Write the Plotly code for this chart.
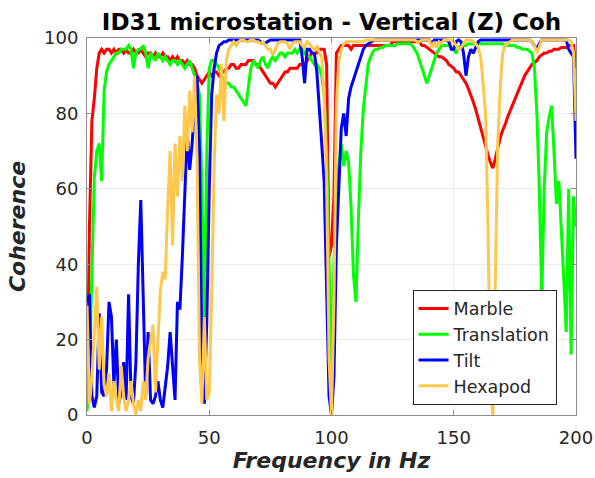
import plotly.graph_objects as go

freq = list(range(201))

marble = [
    2, 50, 78, 84, 92, 96, 97, 96, 97, 97,
    96, 97, 96, 97, 97, 96, 97, 96, 96, 97,
    96, 96, 97, 96, 95, 96, 96, 95, 96, 95,
    95, 96, 95, 95, 94, 95, 94, 95, 94, 94,
    93, 94, 93, 93, 92, 90, 89, 88, 89, 90,
    91, 90, 91, 91, 90, 91, 91, 92, 92, 93,
    93, 92, 92, 93, 93, 93, 94, 94, 94, 93,
    93, 92, 91, 90, 89, 88, 88, 87, 88, 89,
    90, 91, 91, 92, 92, 92, 92, 93, 93, 93,
    94, 95, 96, 96, 96, 97, 97, 97, 93, 42,
    45, 58, 96, 97, 98, 98, 98, 98, 97, 98,
    98, 98, 98, 98, 98, 98, 98, 98, 98, 98,
    98, 98, 98, 98, 98, 99, 99, 99, 99, 99,
    99, 99, 99, 99, 99, 99, 99, 98, 98, 97.5,
    97, 96.5, 96, 95.5, 95, 95, 94.5, 94, 93, 92.5,
    92, 91, 91, 90, 89, 88, 86.5, 85, 83, 81,
    78.5, 76, 73.5, 71, 69, 67, 65.5, 68, 71, 73.5,
    75.5, 77, 79, 80.5, 82, 84, 85.5, 87, 88.5, 90,
    91, 92, 93, 93.5, 94, 95, 95.5, 96, 96, 96.5,
    96.5, 97, 97, 97, 97.5, 97.5, 97.5, 98, 98, 98,
    92,
]

translation = [
    1, 12, 38, 63, 70, 72, 62, 86, 91, 93,
    94, 95, 96, 96, 97, 97, 97, 98, 97, 92,
    96, 97, 97, 98, 96, 92, 96, 95, 94, 96,
    95, 94, 95, 94, 93, 94, 94, 93, 94, 93,
    92, 93, 94, 92, 90, 88, 85, 60, 25, 70,
    92, 94, 94, 93, 92, 90, 89, 88, 88, 87,
    87, 86, 85, 84, 83, 82, 87, 92, 94, 93,
    92, 94, 95, 93, 92, 94, 95, 94, 95, 96,
    96, 95, 96, 96, 96, 97, 96, 97, 97, 96,
    95, 95, 94, 93, 93, 92, 90, 85, 70, 40,
    10, 40, 62, 66, 72, 66, 70, 67, 55, 37,
    30, 52, 70, 81, 88, 93, 95, 96.5, 97, 97,
    97.5, 97.5, 98, 98, 98, 98, 98, 98.5, 98.5, 98.5,
    98.5, 98.5, 98.5, 98, 97, 96, 94, 92, 90, 88,
    90, 92, 94, 96, 97, 98, 98, 98, 98, 97.5,
    97, 96, 97.5, 98, 98, 98, 98.5, 98.5, 98.5, 98.5,
    98.5, 98.5, 98.5, 98.5, 98.5, 98.5, 98.5, 98.5, 98.5, 98.5,
    98.5, 98, 98, 98, 98, 98, 97.5, 97.5, 97, 97,
    97, 96.5, 96, 92, 80, 60, 31, 60, 75, 79,
    82, 70, 56, 62, 50, 36, 22, 60, 16, 58,
    50,
]

tilt = [
    30, 32, 5, 2, 5, 27, 6, 5, 12, 30,
    26, 8, 20, 3, 6, 14, 4, 32, 5, 3,
    14, 40, 57, 31, 5, 22, 4, 3, 5, 9,
    4, 2, 8, 13, 22, 12, 4, 30, 28, 42,
    60, 75, 65, 72, 82, 90, 70, 15, 3, 25,
    60, 85, 92, 96, 98, 98.5, 99, 99, 99.5, 99.5,
    99.5, 99.5, 99.5, 99.5, 99.5, 99.5, 99.5, 99.5, 99.5, 99.5,
    99.5, 99, 98.7, 98.7, 99, 99.5, 99.5, 99.5, 99.5, 99.5,
    99.5, 99.5, 99.5, 99.5, 99.5, 99.5, 99.5, 99.5, 95, 88,
    97, 97, 96, 96, 91, 80, 72, 62, 35, 5,
    0, 10, 45, 62, 76, 80, 74, 84, 87, 89,
    91, 93, 95, 97, 98, 98.5, 99, 99.3, 99.5, 99.5,
    99.5, 99.5, 99.5, 99.5, 99.5, 99.5, 99.5, 99.5, 99.5, 99.5,
    99.5, 99.5, 99.5, 99.5, 99.5, 99.5, 99.5, 99.5, 99.5, 99.5,
    99.5, 98.5, 99.5, 99.5, 99.5, 99.5, 99.5, 99.5, 99, 97,
    97, 99, 99.5, 99, 96, 90, 95, 97, 96, 97.5,
    99, 99.5, 99.5, 99.5, 99.5, 99.5, 99.5, 99.5, 99.5, 99.5,
    99.5, 99.5, 99.5, 99.5, 99.5, 99.5, 99.5, 99.5, 99.5, 99.5,
    99.5, 99.5, 99, 98, 97, 98.5, 99.5, 99.5, 99.5, 99.5,
    99.5, 99.5, 99.5, 99.5, 99.5, 99.5, 99.5, 97, 96, 95,
    68,
]

hexapod = [
    29, 3, 10, 22, 34, 12, 26, 8, 5, 11,
    1, 9, 4, 1, 13, 5, 1, 4, 9, 3,
    0, 4, 1, 9, 4, 15, 20, 24, 6, 20,
    33, 38, 36, 55, 70, 45, 72, 58, 74, 62,
    82, 70, 86, 75, 90, 68, 15, 3, 26, 4,
    6, 32, 66, 85, 80, 93, 78, 94, 97, 98,
    99, 98, 99, 99.5, 99.5, 99, 99, 99.5, 99.5, 99,
    99, 98.5, 99, 98, 97, 97, 95.5, 97, 98.5, 99,
    99, 99, 98.5, 97, 98.5, 99, 99, 99, 98, 97.5,
    99, 98.5, 97.5, 96.5, 98, 96, 95, 85, 62, 15,
    0, 30, 82, 94, 97, 98.5, 99, 99, 99, 99,
    99, 99, 99, 99, 99.5, 99.5, 99.5, 99.5, 99.5, 99.5,
    99.5, 99.5, 99.5, 99.5, 99.5, 99.5, 99.5, 99.5, 99.5, 99.5,
    99.5, 99.5, 99.5, 99.5, 99.5, 99, 99, 99.5, 99.5, 99.5,
    99.5, 97.5, 99, 97.5, 99, 98.5, 99.5, 99.5, 99.5, 99.5,
    99, 98, 97, 97.5, 98.5, 99.5, 99.5, 99.5, 99, 98.5,
    97.5, 95, 88, 80, 50, 8, 0, 35, 72, 87,
    96, 98, 98.5, 99, 99.5, 99.5, 99.5, 99.5, 99.5, 99.5,
    99.5, 99.5, 99, 98, 96, 98, 99.5, 99.5, 99.5, 99.5,
    99.5, 99.5, 99.5, 99.5, 99.5, 99.5, 99.5, 99.5, 99, 96,
    78,
]

series_names = ["Marble", "Translation", "Tilt", "Hexapod"]
series_colors = ["#ff0000", "#00ff00", "#0000ff", "#ffc84d"]
series_values = [marble, translation, tilt, hexapod]

x_ticks = [0, 50, 100, 150, 200]
y_ticks = [0, 20, 40, 60, 80, 100]

FONT = "DejaVu Sans"

fig = go.Figure()
for name, color, vals in zip(series_names, series_colors, series_values):
    fig.add_trace(go.Scatter(
        x=freq, y=vals, mode="lines", name=name,
        line=dict(color=color, width=3),
    ))

axis_common = dict(
    showline=True, linecolor="#8c8c8c", linewidth=1, mirror="allticks",
    ticks="inside", ticklen=5, tickcolor="#8c8c8c",
    showgrid=True, gridcolor="#ebebeb", gridwidth=1,
    zeroline=False, automargin=False,
    tickfont=dict(family=FONT, size=18, color="#262626"),
)

fig.update_layout(
    width=595, height=478,
    margin=dict(l=87, r=19, t=38, b=63, autoexpand=False),
    paper_bgcolor="white", plot_bgcolor="white",
    title=dict(
        text="ID31 microstation - Vertical (Z) Coh",
        font=dict(family=FONT, size=23, color="#000000", weight="bold"),
        x=0.5, xref="paper", xanchor="center",
        y=0.955, yref="container", yanchor="middle",
    ),
    xaxis=dict(
        range=[0, 200], tickvals=x_ticks, ticktext=[str(v) for v in x_ticks],
        title=dict(text="Frequency in Hz", standoff=6,
                   font=dict(family=FONT, size=22, color="#262626",
                             weight="bold", style="italic")),
        ticklabelstandoff=6,
        **axis_common,
    ),
    yaxis=dict(
        range=[0, 100], tickvals=y_ticks, ticktext=[str(v) for v in y_ticks],
        title=dict(text="Coherence", standoff=12,
                   font=dict(family=FONT, size=22, color="#262626",
                             weight="bold", style="italic")),
        ticklabelstandoff=4,
        **axis_common,
    ),
    legend=dict(
        x=0.813, y=0.18, xanchor="center", yanchor="middle",
        bgcolor="white", bordercolor="#262626", borderwidth=1,
        font=dict(family=FONT, size=17.5, color="#262626"),
        itemwidth=30, tracegroupgap=0,
    ),
    showlegend=True,
)

fig.write_html("out.html")
